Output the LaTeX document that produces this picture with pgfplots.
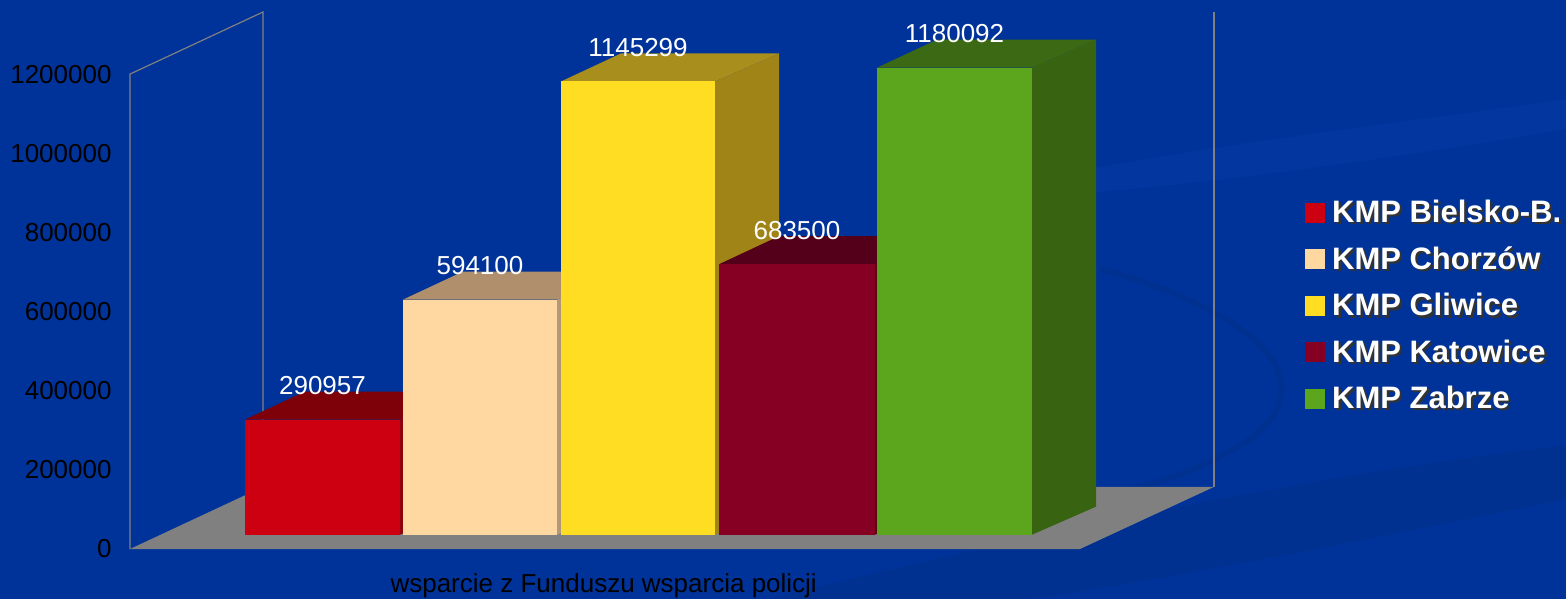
\documentclass[border=0pt]{standalone}
\usepackage{fontspec}
\setmainfont{Liberation Sans}
\usepackage{pgfplots}
\pgfplotsset{compat=1.18}

\definecolor{bgblue}{HTML}{003399}
\definecolor{bgdark}{HTML}{003090}
\definecolor{bglight}{HTML}{03369E}
\definecolor{wall}{HTML}{808080}
% front / top / side colours of the bars
\definecolor{redF}{HTML}{CC0010}\definecolor{redT}{HTML}{7E0008}\definecolor{redS}{HTML}{8E000C}
\definecolor{peaF}{HTML}{FFD7A0}\definecolor{peaT}{HTML}{B0906C}\definecolor{peaS}{HTML}{B09878}
\definecolor{yelF}{HTML}{FFDD22}\definecolor{yelT}{HTML}{A88E1C}\definecolor{yelS}{HTML}{A08418}
\definecolor{burF}{HTML}{850022}\definecolor{burT}{HTML}{55001A}\definecolor{burS}{HTML}{5A001A}
\definecolor{grnF}{HTML}{5CA61E}\definecolor{grnT}{HTML}{3C6A14}\definecolor{grnS}{HTML}{386412}

% values in thousands; depth of the box: dx=133, dy=156.962
% bar: front face from x1 to x2, set back 0.23 of the depth, 0.45 deep
\newcommand\boxbar[6]{%
  \pgfmathsetmacro\ya{36.101}%
  \pgfmathsetmacro\yb{#3+36.101}%
  \pgfmathsetmacro\yc{#3+36.101+70.886}%
  \pgfmathsetmacro\yd{36.101+70.886}%
  \pgfmathsetmacro\xa{#1+60}%
  \pgfmathsetmacro\xb{#2+64}%
  \addplot[forget plot,fill=#6,draw=none] coordinates {(#2,\ya) (\xb,\yd) (\xb,\yc) (#2,\yb)};
  \addplot[forget plot,fill=#5,draw=none] coordinates {(#1,\yb) (\xa,\yc) (\xb,\yc) (#2,\yb)};
  \addplot[forget plot,fill=#4,draw=none] coordinates {(#1,\ya) (#2,\ya) (#2,\yb) (#1,\yb)};
}
\newcommand\sh[1]{\hspace{1.5bp}\makebox[0pt][l]{\hspace{1.2bp}\raisebox{-1.2bp}{\color{black!80}#1}}#1}
\newcommand\sq[1]{\addlegendimage{legend image code/.code={\fill[#1] (0bp,-4.75bp) rectangle (9.5bp,4.75bp);}}}

\begin{document}
\begin{tikzpicture}
\fill[bgblue] (-65bp,-25bp) rectangle (718bp,274.5bp);
\useasboundingbox (-65bp,-25bp) rectangle (718bp,274.5bp);
% faint background swooshes
\fill[bgdark] (320bp,-25bp) .. controls (500bp,20bp) and (620bp,40bp) .. (718bp,52bp) -- (718bp,25bp) .. controls (620bp,5bp) and (520bp,-15bp) .. (450bp,-25bp) -- cycle;
\fill[bglight] (480bp,190bp) .. controls (560bp,205bp) and (650bp,215bp) .. (718bp,225bp) -- (718bp,210bp) .. controls (650bp,198bp) and (560bp,185bp) .. (480bp,178bp) -- cycle;
\draw[bgdark,line width=3bp] (485bp,140bp) .. controls (560bp,120bp) and (600bp,85bp) .. (560bp,55bp) .. controls (530bp,35bp) and (500bp,30bp) .. (470bp,22bp);
\begin{axis}[
  scale only axis,
  width=542bp, height=268.5bp,
  xmin=130, xmax=1214,
  ymin=0, ymax=1356.962,
  clip=false,
  axis line style={draw=none},
  xtick=\empty,
  ytick={0,200,400,600,800,1000,1200},
  yticklabels={0,200000,400000,600000,800000,1000000,1200000},
  major tick length=0pt,
  yticklabel style={font=\fontsize{13bp}{15bp}\selectfont, text=black, xshift=-5.7bp},
  xlabel={wsparcie z Funduszu wsparcia policji},
  xlabel style={at={(axis description cs:0.437,0)}, anchor=base, yshift=-21.5bp,
    font=\fontsize{13bp}{15bp}\selectfont, text=black},
  legend style={at={(axis description cs:1.0839,0.658)}, anchor=north west,
    draw=none, fill=none, inner sep=0pt, text=white,
    font=\fontsize{15.5bp}{18bp}\selectfont\bfseries,
    row sep=6.5bp, cells={anchor=west}},
  legend cell align=left,
]
% floor and walls
\addplot[forget plot,fill=wall,draw=none] coordinates {(130,0) (263,156.962) (1214,156.962) (1080,0)};
\addplot[forget plot,wall,line width=0.6bp] coordinates {(130,0) (130,1200) (263,1356.962) (263,156.962)};
\addplot[forget plot,wall,line width=0.6bp] coordinates {(1214,156.962) (1214,1356.962)};

% bars, value in thousands
\boxbar{245}{400}{290.957}{redF}{redT}{redS}
\boxbar{403}{557}{594.100}{peaF}{peaT}{peaS}
\boxbar{561}{715}{1145.299}{yelF}{yelT}{yelS}
\boxbar{719}{875}{683.500}{burF}{burT}{burS}
\boxbar{877}{1032}{1180.092}{grnF}{grnT}{grnS}

% value labels
\addplot[forget plot,draw=none,mark=none,
  point meta=explicit symbolic,
  nodes near coords,
  nodes near coords style={anchor=center, yshift=24bp, text=white,
    font=\fontsize{13bp}{15bp}\selectfont}]
  coordinates {(322.5,290.957) [290957] (480,594.100) [594100] (638,1145.299) [1145299]
               (797,683.500) [683500] (954.5,1180.092) [1180092]};

\sq{redF}\addlegendentry{\sh{KMP Bielsko-B.}}
\sq{peaF}\addlegendentry{\sh{KMP Chorzów}}
\sq{yelF}\addlegendentry{\sh{KMP Gliwice}}
\sq{burF}\addlegendentry{\sh{KMP Katowice}}
\sq{grnF}\addlegendentry{\sh{KMP Zabrze}}
\end{axis}
\end{tikzpicture}
\end{document}
